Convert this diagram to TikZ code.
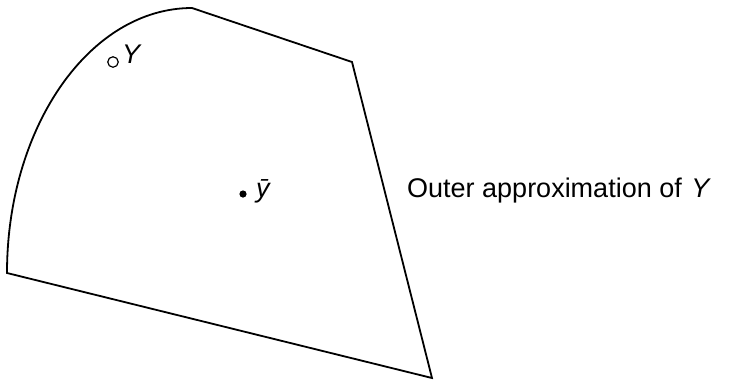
\documentclass[tikz,border=0pt]{standalone}
\usepackage{fontspec}
\setmainfont{Liberation Sans}
\begin{document}
\begin{tikzpicture}[x=1pt,y=-1pt,
  edge/.style={line width=1.8pt, line join=miter},
  lbl/.style={inner sep=0pt, font=\fontsize{27}{32}\selectfont}]
\useasboundingbox (0,0) rectangle (735,381);
\coordinate (top) at (192,8);
\coordinate (tr) at (352,62);
\coordinate (br) at (432,378);
\coordinate (bl) at (7,273);
\draw[edge] (bl) arc[start angle=180, end angle=90, x radius=185, y radius=-265] -- (tr) -- (br) -- (bl) -- cycle;
\node[circle, draw, line width=1.2pt, minimum size=10.5pt, inner sep=0pt] (c) at (113,62) {};
\node[lbl, anchor=base west] (Y) at (122,63) {\textit{Y}};
\fill (243,194) circle[radius=3.6] coordinate (ybar);
\node[lbl, anchor=base west] (yb) at (256,197) {\textit{\={y}}};
\node[lbl, anchor=base west] (t) at (407,197) {Outer approximation of\hspace{0.35em}\textit{Y}};
\end{tikzpicture}
\end{document}
